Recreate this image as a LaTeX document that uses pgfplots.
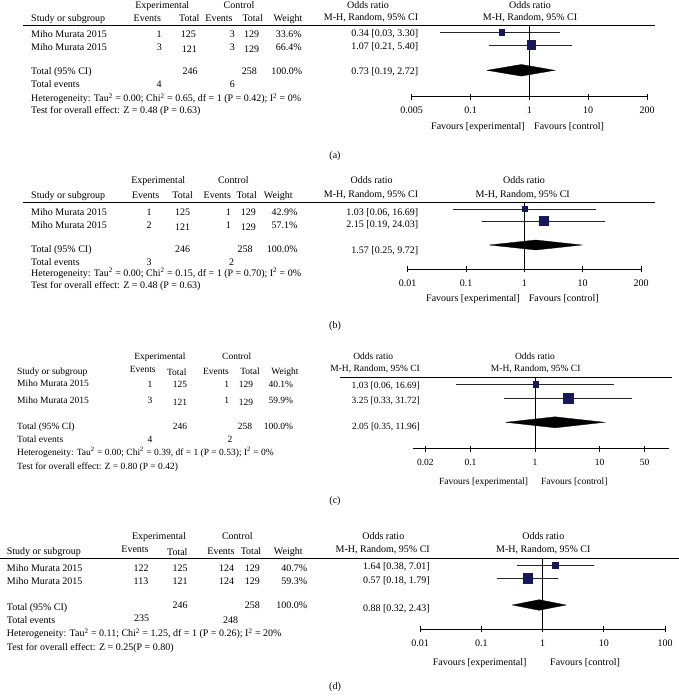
\documentclass[border=0pt]{standalone}
\usepackage{pgfplots}
\pgfplotsset{compat=1.18}
\usepackage{fontspec}
\setmainfont{Liberation Serif}
\definecolor{sq}{RGB}{24,24,88}
\newcommand{\fsA}{\fontsize{10}{12}\selectfont}
\newcommand{\fsC}{\fontsize{9.5}{11}\selectfont}
\newcommand{\T}[3]{\node[t] at (#1,#2) {#3};}
\newcommand{\TL}[3]{\node[tl] at (#1,#2) {#3};}
\newcommand{\TR}[3]{\node[tr] at (#1,#2) {#3};}
\tikzset{myci/.style={black!85, line width=0.8pt},
  myvl/.style={black, line width=0.9pt},
  mydia/.style={fill=black, draw=black, line width=0.3pt},
  mysq/.style={mark=square*, mark options={fill=sq, draw=sq}}}
\begin{document}
\begin{tikzpicture}[x=1pt,y=-1pt,
  t/.style={anchor=base, inner sep=0pt, yshift=-3.4pt},
  tl/.style={anchor=base west, inner sep=0pt, yshift=-3.4pt},
  tr/.style={anchor=base east, inner sep=0pt, yshift=-3.4pt}]
\useasboundingbox (0,0) rectangle (679,696);
% ================= panel (a)
\begin{scope}[font=\fsA]
\T{162.3}{5}{Experimental} \T{239}{5}{Control}
\TL{31}{18.3}{Study or subgroup}
\T{147.3}{18.3}{Events} \T{189.3}{18.3}{Total} \T{219}{18.3}{Events} \T{252.7}{18.3}{Total} \T{288}{18.3}{Weight}
\T{368}{5}{Odds ratio} \TR{418.3}{17}{M-H, Random, 95\% CI}
\T{530}{5}{Odds ratio} \T{530}{17}{M-H, Random, 95\% CI}
\draw[line width=0.9pt] (23.3,25.7) -- (655,25.7);
\TL{31}{34}{Miho Murata 2015} \T{159}{34}{1} \T{188.3}{34}{125} \T{232.3}{34}{3} \T{251.7}{34}{129} \TR{302}{34}{33.6\%} \TR{418.3}{33.5}{0.34 [0.03, 3.30]}
\TL{31}{47.5}{Miho Murata 2015} \T{159.3}{47.5}{3} \T{189.3}{49}{121} \T{232.3}{47.5}{3} \T{251.7}{49}{129} \TR{302}{47.5}{66.4\%} \TR{418.3}{46.5}{1.07 [0.21, 5.40]}
\TL{31}{71}{Total (95\% CI)} \T{190}{71}{246} \T{249.3}{71}{258} \TR{302.5}{71}{100.0\%} \TR{418.3}{71}{0.73 [0.19, 2.72]}
\TL{31}{84.3}{Total events} \T{159}{84.3}{4} \T{232.3}{84.3}{6}
\TL{31}{98.3}{Heterogeneity: Tau\textsuperscript{2} = 0.00; Chi\textsuperscript{2} = 0.65, df = 1 (P = 0.42); I\textsuperscript{2} = 0\%}
\TL{31}{110}{Test for overall effect: Z = 0.48 (P = 0.63)}
\TR{525}{125.7}{Favours [experimental]} \TL{534}{125.7}{Favours [control]}
\T{335}{155}{(a)}
\end{scope}
\begin{semilogxaxis}[scale only axis, anchor=south west,
  hide y axis, axis x line*=bottom, axis line style={-},
  x axis line style={-, line width=0.9pt, black},
  tick align=center, major tick length=6pt,
  xtick style={line width=0.9pt, black}, xminorticks=false, clip=false,
  at={(411.7pt,-96.7pt)}, width=235.3pt, height=71pt,
  xmin=0.01, xmax=100, ymin=-96.7, ymax=-25.7,
  xtick={0.01,0.1,1,10,100}, xticklabels={0.005,0.1,1,10,200},
  xticklabel style={font=\fsA, yshift=-4pt}]
\addplot[myci] coordinates {(0.03,-32.3) (3.30,-32.3)};
\addplot[myci] coordinates {(0.21,-45) (5.40,-45)};
\addplot[myvl] coordinates {(1,-25.7) (1,-96.7)};
\addplot[mydia] coordinates {(0.19,-70.3) (0.73,-64.5) (2.72,-70.3) (0.73,-76.1) (0.19,-70.3)};
\addplot[only marks, mysq, mark size=2.65pt] coordinates {(0.34,-32.3)};
\addplot[only marks, mysq, mark size=4.35pt] coordinates {(1.07,-45)};
\end{semilogxaxis}
% ================= panel (b)
\begin{scope}[font=\fsA]
\T{158.3}{180}{Experimental} \T{233.3}{180}{Control}
\TL{31}{195}{Study or subgroup}
\T{145.7}{195}{Events} \T{182.7}{195}{Total} \T{217.3}{195}{Events} \T{246.7}{195}{Total} \T{278.3}{195}{Weight}
\T{371.7}{180}{Odds ratio} \TR{418.3}{194}{M-H, Random, 95\% CI}
\T{524}{180}{Odds ratio} \T{522.7}{194}{M-H, Random, 95\% CI}
\draw[line width=0.9pt] (23.3,202.3) -- (655,202.3);
\TL{31}{212.3}{Miho Murata 2015} \T{149}{212.3}{1} \T{182.7}{212.3}{125} \T{228.3}{212.3}{1} \T{248.3}{212.3}{129} \TR{297.7}{212.3}{42.9\%} \TR{418.3}{212.3}{1.03 [0.06, 16.69]}
\TL{31}{225}{Miho Murata 2015} \T{149}{225}{2} \T{182.7}{226.7}{121} \T{228.3}{225}{1} \T{248.3}{226.7}{129} \TR{297.7}{225}{57.1\%} \TR{418.3}{224}{2.15 [0.19, 24.03]}
\TL{31}{249}{Total (95\% CI)} \T{182.7}{249}{246} \T{245}{249}{258} \TR{298}{249}{100.0\%} \TR{418.3}{250}{1.57 [0.25, 9.72]}
\TL{31}{262.2}{Total events} \T{149}{262.2}{3} \T{231.7}{262.2}{2}
\TL{31}{272.8}{Heterogeneity: Tau\textsuperscript{2} = 0.00; Chi\textsuperscript{2} = 0.15, df = 1 (P = 0.70); I\textsuperscript{2} = 0\%}
\TL{31}{285}{Test for overall effect: Z = 0.48 (P = 0.63)}
\TR{520}{297.7}{Favours [experimental]} \TL{528.7}{297.7}{Favours [control]}
\T{335}{325}{(b)}
\end{scope}
\begin{semilogxaxis}[scale only axis, anchor=south west,
  hide y axis, axis x line*=bottom, axis line style={-},
  x axis line style={-, line width=0.9pt, black},
  tick align=center, major tick length=6pt,
  xtick style={line width=0.9pt, black}, xminorticks=false, clip=false,
  at={(407.7pt,-269.3pt)}, width=233.3pt, height=67pt,
  xmin=0.01, xmax=100, ymin=-269.3, ymax=-202.3,
  xtick={0.01,0.1,1,10,100}, xticklabels={0.01,0.1,1,10,200},
  xticklabel style={font=\fsA, yshift=-4pt}]
\addplot[myci] coordinates {(0.06,-209) (16.69,-209)};
\addplot[myci] coordinates {(0.19,-221) (24.03,-221)};
\addplot[myvl] coordinates {(1,-202.3) (1,-269.3)};
\addplot[mydia] coordinates {(0.25,-245) (1.57,-240) (9.72,-245) (1.57,-250) (0.25,-245)};
\addplot[only marks, mysq, mark size=2.5pt] coordinates {(1.03,-209)};
\addplot[only marks, mysq, mark size=4.5pt] coordinates {(2.15,-221)};
\end{semilogxaxis}
% ================= panel (c)
\begin{scope}[font=\fsC]
\T{160}{355.7}{Experimental} \T{236.7}{356}{Control}
\TL{17}{370.7}{Study or subgroup}
\T{142.7}{369}{Events} \T{176.7}{372.3}{Total} \T{216}{370.7}{Events} \T{250}{370.7}{Total} \T{285}{370.7}{Weight}
\T{373.3}{355.7}{Odds ratio} \TR{420}{368}{M-H, Random, 95\% CI}
\T{535}{355.7}{Odds ratio} \T{535.7}{368}{M-H, Random, 95\% CI}
\draw[line width=0.9pt] (340,377) -- (672,377);
\TL{17}{383.5}{Miho Murata 2015} \T{150}{384.3}{1} \T{180}{384.3}{125} \T{226.7}{384.3}{1} \T{246}{384.3}{129} \TR{293.3}{384.3}{40.1\%} \TR{420}{385.3}{1.03 [0.06, 16.69]}
\TL{17}{400}{Miho Murata 2015} \T{150}{400}{3} \T{180}{401.7}{121} \T{226.7}{400}{1} \T{246}{401.7}{129} \TR{293.3}{400}{59.9\%} \TR{420}{400.3}{3.25 [0.33, 31.72]}
\TL{17}{426}{Total (95\% CI)} \T{180}{426}{246} \T{245}{426}{258} \TR{293.3}{426}{100.0\%} \TR{420}{426}{2.05 [0.35, 11.96]}
\TL{17}{439.3}{Total events} \T{150}{439.3}{4} \T{230}{439.3}{2}
\TL{17}{452.3}{Heterogeneity: Tau\textsuperscript{2} = 0.00; Chi\textsuperscript{2} = 0.39, df = 1 (P = 0.53); I\textsuperscript{2} = 0\%}
\TL{17}{465.7}{Test for overall effect: Z = 0.80 (P = 0.42)}
\TR{528.3}{480.7}{Favours [experimental]} \TL{541}{480.7}{Favours [control]}
\end{scope}
\begin{scope}[font=\fsA]
\T{335}{500}{(c)}
\end{scope}
\begin{semilogxaxis}[scale only axis, anchor=south west,
  hide y axis, axis x line*=bottom, axis line style={-},
  x axis line style={-, line width=0.9pt, black},
  tick align=center, major tick length=6pt,
  xtick style={line width=0.9pt, black}, xminorticks=false, clip=false,
  at={(412.7pt,-448.7pt)}, width=256.6pt, height=71.7pt,
  xmin=0.0127, xmax=120.8, ymin=-448.7, ymax=-377,
  xtick={0.02,0.1,1,10,50}, xticklabels={0.02,0.1,1,10,50},
  xticklabel style={font=\fsC, yshift=-4pt}]
\addplot[myci] coordinates {(0.06,-384.3) (16.69,-384.3)};
\addplot[myci] coordinates {(0.33,-398.3) (31.72,-398.3)};
\addplot[myvl] coordinates {(1,-377) (1,-448.7)};
\addplot[mydia] coordinates {(0.35,-422.3) (2.05,-416.8) (11.96,-422.3) (2.05,-427.8) (0.35,-422.3)};
\addplot[only marks, mysq, mark size=2.8pt] coordinates {(1.03,-384.3)};
\addplot[only marks, mysq, mark size=5pt] coordinates {(3.25,-398.3)};
\end{semilogxaxis}
% ================= panel (d)
\begin{scope}[font=\fsA]
\T{159}{535.7}{Experimental} \T{237.3}{535.7}{Control}
\TL{6.7}{550.7}{Study or subgroup}
\T{135}{549.3}{Events} \T{177.3}{551.7}{Total} \T{221}{550.7}{Events} \T{251}{550.7}{Total} \T{288.3}{550.7}{Weight}
\T{383.3}{535.7}{Odds ratio} \TR{430}{549}{M-H, Random, 95\% CI}
\T{543.3}{535.7}{Odds ratio} \T{543.3}{549}{M-H, Random, 95\% CI}
\draw[line width=0.9pt] (0,558.7) -- (679,558.7);
\TL{6.7}{568.3}{Miho Murata 2015} \T{141}{568.3}{122} \T{180}{568.3}{125} \T{226.7}{568.3}{124} \T{252.3}{568.3}{129} \TR{307.3}{568.3}{40.7\%} \TR{430}{566}{1.64 [0.38, 7.01]}
\TL{6.7}{580.7}{Miho Murata 2015} \T{141}{580.7}{113} \T{180}{580.7}{121} \T{226.7}{580.7}{124} \T{252.3}{580.7}{129} \TR{307.3}{580.7}{59.3\%} \TR{430}{580}{0.57 [0.18, 1.79]}
\TL{6.7}{606.7}{Total (95\% CI)} \T{180}{605}{246} \T{252.3}{605}{258} \TR{307.3}{605}{100.0\%} \TR{430}{607.7}{0.88 [0.32, 2.43]}
\TL{6.7}{620}{Total events} \T{141.7}{618.3}{235} \T{230.7}{620}{248}
\TL{6.7}{633.3}{Heterogeneity: Tau\textsuperscript{2} = 0.11; Chi\textsuperscript{2} = 1.25, df = 1 (P = 0.26); I\textsuperscript{2} = 20\%}
\TL{6.7}{646.7}{Test for overall effect: Z = 0.25(P = 0.80)}
\TR{526.7}{661.7}{Favours [experimental]} \TL{550}{661.7}{Favours [control]}
\T{335}{686}{(d)}
\end{scope}
\begin{semilogxaxis}[scale only axis, anchor=south west,
  hide y axis, axis x line*=bottom, axis line style={-},
  x axis line style={-, line width=0.9pt, black},
  tick align=center, major tick length=6pt,
  xtick style={line width=0.9pt, black}, xminorticks=false, clip=false,
  at={(420pt,-629pt)}, width=245pt, height=70.3pt,
  xmin=0.01, xmax=100, ymin=-629, ymax=-558.7,
  xtick={0.01,0.1,1,10,100}, xticklabels={0.01,0.1,1,10,100},
  xticklabel style={font=\fsA, yshift=-4pt}]
\addplot[myci] coordinates {(0.38,-565) (7.01,-565)};
\addplot[myci] coordinates {(0.18,-578.3) (1.79,-578.3)};
\addplot[myvl] coordinates {(1,-558.7) (1,-629)};
\addplot[mydia] coordinates {(0.32,-605) (0.88,-599.7) (2.43,-605) (0.88,-610.3) (0.32,-605)};
\addplot[only marks, mysq, mark size=3pt] coordinates {(1.64,-565)};
\addplot[only marks, mysq, mark size=4.8pt] coordinates {(0.57,-578.3)};
\end{semilogxaxis}
\end{tikzpicture}
\end{document}
